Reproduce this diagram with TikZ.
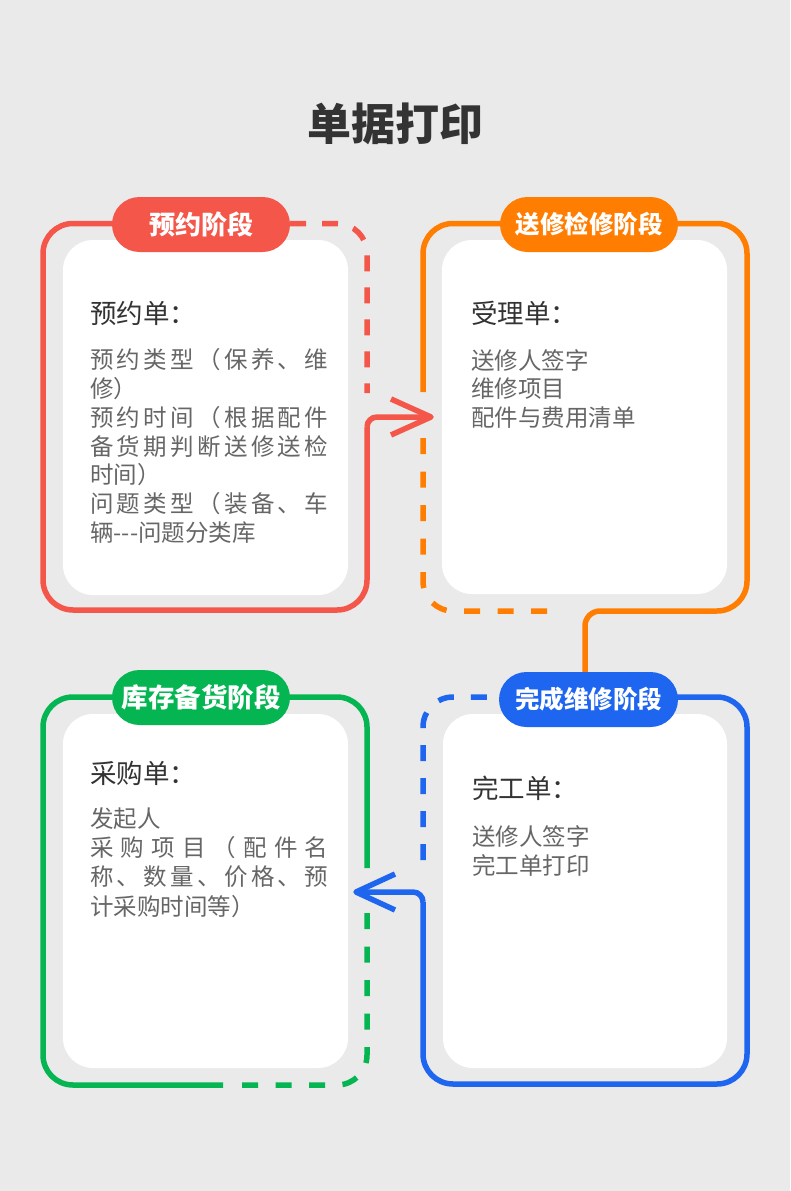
\documentclass[tikz,border=0pt]{standalone}
\usepackage{fontspec}
\setmainfont{Noto Sans CJK SC}
\definecolor{bgc}{HTML}{EAEAEA}
\definecolor{cred}{HTML}{F4574A}
\definecolor{corange}{HTML}{FF7D00}
\definecolor{cblue}{HTML}{1E65F0}
\definecolor{cgreen}{HTML}{05B552}
\definecolor{ctitle}{HTML}{333333}
\definecolor{ctext}{HTML}{666666}
\let\endspr\relax
\def\sprA#1{#1\sprB}
\def\sprB#1{\ifx#1\endspr\else\hfil#1\expandafter\sprB\fi}
\newcommand\spr[1]{\hbox to 238pt{\sprA#1\endspr}}
\tikzset{
  frame/.style={line width=5.5pt},
  dsh/.style={dash pattern=on 16pt off 16pt},
  dshb/.style={dash pattern=on 16pt off 17.5pt},
  rc/.style={rounded corners=30pt},
  pill/.style={rounded corners=27.5pt, minimum width=178pt, minimum height=55pt, inner sep=0pt, text=white},
  card/.style={fill=white, rounded corners=30pt},
  head/.style={anchor=west, inner sep=0pt, text=ctitle, font=\fontsize{26.5}{26.5}\selectfont},
  item/.style={anchor=west, inner sep=0pt, text=ctext, font=\fontsize{23.5}{23.5}\selectfont},
  tipline/.style={line width=5.5pt, line join=round},
}
\begin{document}
\begin{tikzpicture}[x=1pt,y=1pt]
\useasboundingbox (0,0) rectangle (790,-1191);
\fill[bgc] (0,0) rectangle (790,-1191);

% title
\node[font=\bfseries\fontsize{44}{44}\selectfont, text=ctitle] (title) at (395.5,-124) {单据打印};

% cards
\fill[card] (63,-240) rectangle (348,-595);
\fill[card] (442,-240) rectangle (727,-594);
\fill[card] (443,-714) rectangle (727,-1068);
\fill[card] (63,-714) rectangle (348,-1068);

% arrow tips
\coordinate (rtip) at (431,-417);
\coordinate (btip) at (356,-892);

% red frame
\draw[frame, cred, rc] (150,-223.5) -- (43,-223.5) -- (43,-610) -- (367,-610) -- (367,-427);
\draw[frame, cred] (367,-427) arc[start angle=180, end angle=90, radius=10] -- (rtip);
\draw[tipline, cred] (391,-399) -- (rtip) -- (391,-435);
\draw[frame, cred, dsh, rc] (290,-223.5) -- (367,-223.5) -- (367,-393);

% orange frame
\draw[frame, corange, rc] (540,-223.5) -- (423,-223.5) -- (423,-392);
\draw[frame, corange, dshb, rc] (547,-611) -- (423,-611) -- (423,-438);
\draw[frame, corange, rc] (640,-223.5) -- (747,-223.5) -- (747,-611) -- (600,-611);
\draw[frame, corange] (600,-611) arc[start angle=90, end angle=180, radius=15] -- (585,-690);

% blue frame
\draw[frame, cblue, dash pattern=on 16pt off 17pt, rc] (423,-860) -- (423,-697) -- (499,-697);
\draw[frame, cblue, rc] (640,-697) -- (747,-697) -- (747,-1084) -- (423,-1084) -- (423,-902);
\draw[frame, cblue] (423,-902) arc[start angle=0, end angle=90, radius=10] -- (btip);
\draw[tipline, cblue] (395,-874) -- (btip) -- (395,-910);

% green frame
\draw[frame, cgreen, rc] (150,-697) -- (43,-697) -- (43,-1085) -- (223,-1085);
\draw[frame, cgreen, dshb, rc] (242,-1085) -- (367,-1085) -- (367,-913);
\draw[frame, cgreen, rc] (260,-697) -- (367,-697) -- (367,-868);

% pills
\node[pill, fill=cred, font=\bfseries\fontsize{26}{26}\selectfont] (pr) at (201,-224.5) {预约阶段};
\node[pill, fill=corange, font=\bfseries\fontsize{24.5}{24.5}\selectfont] (po) at (589,-224.5) {送修检修阶段};
\node[pill, fill=cblue, minimum width=179pt, font=\bfseries\fontsize{24.5}{24.5}\selectfont] (pb) at (588.5,-699.5) {完成维修阶段};
\node[pill, fill=cgreen, font=\bfseries\fontsize{26.5}{26.5}\selectfont] (pg) at (201,-697.5) {库存备货阶段};

% red texts
\node[head] (rh) at (90,-313) {预约单：};
\node[item] (r1) at (90,-360) {\spr{预约类型（保养、维}};
\node[item] (r2) at (90,-389) {修）};
\node[item] (r3) at (90,-418) {\spr{预约时间（根据配件}};
\node[item] (r4) at (90,-447) {\spr{备货期判断送修送检}};
\node[item] (r5) at (90,-475) {时间）};
\node[item] (r6) at (90,-504) {\spr{问题类型（装备、车}};
\node[item] (r7) at (90,-533) {辆-{}-{}-问题分类库};

% orange texts
\node[head] (oh) at (471,-313) {受理单：};
\node[item] (o1) at (471,-360) {送修人签字};
\node[item] (o2) at (471,-389) {维修项目};
\node[item] (o3) at (471,-418) {配件与费用清单};

% blue texts
\node[head] (bh) at (472,-788) {完工单：};
\node[item] (b1) at (472,-836) {送修人签字};
\node[item] (b2) at (472,-865) {完工单打印};

% green texts
\node[head] (gh) at (90,-773) {采购单：};
\node[item] (g1) at (90,-819) {发起人};
\node[item] (g2) at (90,-848) {\spr{采购项目（配件名}};
\node[item] (g3) at (90,-877) {\spr{称、数量、价格、预}};
\node[item] (g4) at (90,-907) {计采购时间等）};
\end{tikzpicture}
\end{document}
